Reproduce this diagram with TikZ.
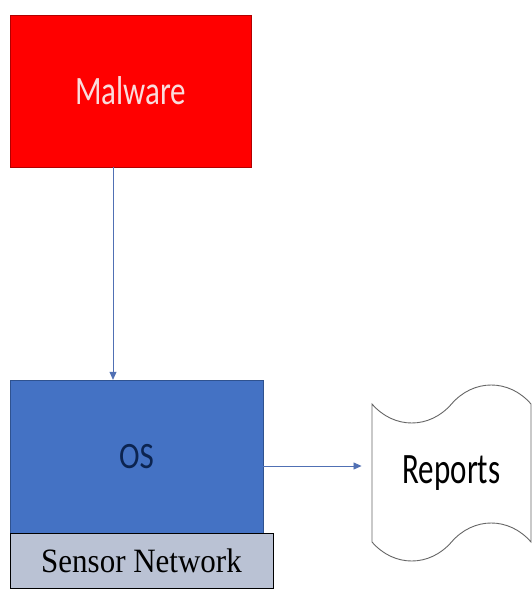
\documentclass[tikz,border=0pt]{standalone}
\usepackage{fontspec}
\usepackage{graphicx}
\setmainfont{Carlito}
\newfontfamily\timesfont{Liberation Serif}
\usetikzlibrary{shapes.symbols,arrows.meta,positioning}

\definecolor{malred}{RGB}{255,0,0}
\definecolor{maltext}{RGB}{250,220,220}
\definecolor{osblue}{RGB}{68,114,196}
\definecolor{osline}{RGB}{47,82,143}
\definecolor{ostext}{RGB}{12,36,80}
\definecolor{sensorgray}{RGB}{186,194,212}
\definecolor{arrowblue}{RGB}{80,112,180}

\newcommand{\vstretch}[2]{\scalebox{1}[#1]{#2}}

\begin{document}
\begin{tikzpicture}[x=1pt,y=-1pt,
  box/.style={draw, minimum width=241pt, minimum height=152pt, inner sep=0pt},
  flow/.style={draw=arrowblue, line width=0.8pt, -{Triangle[length=8pt,width=7pt]}}]
\useasboundingbox (0,0) rectangle (532,591);

\node[box, fill=malred, draw=malred!70!black, text=maltext, font=\fontsize{31}{31}\selectfont]
  (malware) at (130.5,91) {\vstretch{1.3}{Malware}};
\node[box, fill=osblue, draw=osline, minimum width=253pt, minimum height=160pt,
  text=ostext, font=\fontsize{31}{31}\selectfont]
  (os) at (136.5,460) {\raisebox{8pt}{\vstretch{1.2}{OS}}};
\node[draw=black, fill=sensorgray, minimum width=263pt, minimum height=55pt, inner sep=0pt,
  font=\timesfont\fontsize{31}{31}\selectfont]
  (sensor) at (141.5,560.5) {\vstretch{1.1}{Sensor Network}};
\node[tape, draw=black!60, line width=0.9pt, fill=white, minimum width=159pt, minimum height=176pt,
  tape bend top=in and out, tape bend bottom=in and out, tape bend height=38pt,
  inner sep=0pt, font=\fontsize{31}{31}\selectfont]
  (reports) at (451.5,473) {\raisebox{-6pt}{\vstretch{1.4}{Reports}}};

\coordinate (drop) at (113,0);
\draw[flow] (malware.south -| drop) -- (os.north -| drop);
\draw[flow] (os.east |- 0,466) -- ([xshift=-10pt]reports.west |- 0,466);
\end{tikzpicture}
\end{document}
